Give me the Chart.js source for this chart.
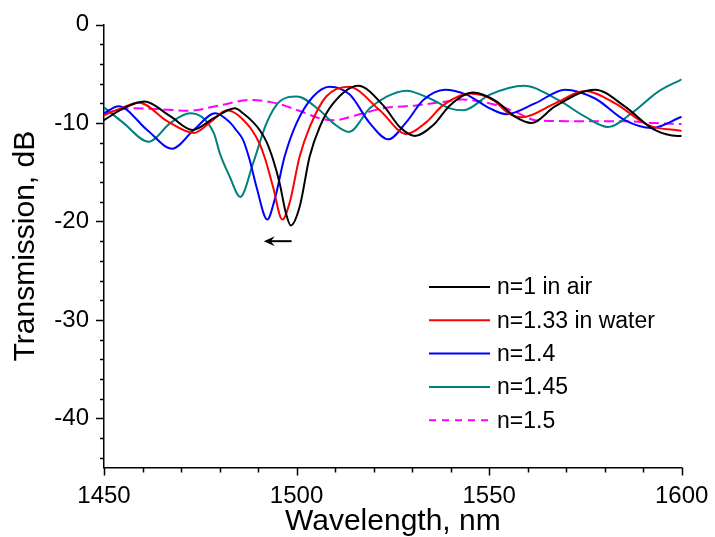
<!DOCTYPE html>
<html>
<head>
<meta charset="utf-8">
<script src="https://cdn.jsdelivr.net/npm/chart.js@4.4.0/dist/chart.umd.min.js"></script>
<style>
  html, body { margin: 0; padding: 0; background: #fff; }
  #wrap { width: 715px; height: 537px; }
</style>
</head>
<body>
<div id="wrap"><canvas id="transChart"></canvas></div>
<script>
// Tick labels
const xTicks = [1450, 1500, 1550, 1600];
const yTicks = [0, -10, -20, -30, -40];

// n=1 in air
const wlAir = [1450, 1455, 1460.5, 1467.2, 1473, 1478.5, 1484, 1486.1, 1488.7, 1490.4, 1492.2, 1493.9, 1495.6, 1497.2, 1498.5, 1500.8, 1503.4, 1506, 1509.5, 1516, 1522.5, 1526.8, 1530.7, 1535.5, 1539.8, 1545.8, 1551.9, 1556.7, 1561, 1567.1, 1577.5, 1585.2, 1593, 1599, 1600];
const tAir = [-9.7, -8.5, -7.8, -9.3, -10.7, -9.5, -8.5, -9.0, -9.9, -10.7, -11.9, -13.7, -16.1, -19.1, -20.4, -18.5, -13.4, -10.4, -8.0, -6.2, -8.2, -10.4, -11.3, -10.2, -8.2, -6.9, -7.8, -9.35, -10.0, -8.3, -6.6, -8.3, -10.7, -11.3, -11.3];

// n=1.33 in water
const wlWater = [1450, 1454.4, 1459, 1466.4, 1473.3, 1477.6, 1482, 1484.1, 1486, 1488.4, 1490.4, 1491.9, 1493.9, 1496.3, 1498.2, 1500.8, 1503.4, 1507.7, 1513.5, 1521.6, 1528.5, 1533.7, 1538, 1545, 1551, 1555, 1558.5, 1567.1, 1574.9, 1582.7, 1591.3, 1600];
const tWater = [-9.2, -8.5, -7.9, -9.8, -11.0, -9.9, -8.7, -9.0, -9.6, -10.7, -12.1, -13.7, -16.5, -19.8, -18.1, -13.4, -10.4, -7.3, -6.3, -8.7, -11.1, -9.9, -8.2, -7.0, -7.65, -9.0, -9.4, -8.0, -6.75, -8.0, -10.2, -10.8];

// n=1.4
const wl14 = [1450, 1453.8, 1461.2, 1467.7, 1473.3, 1478.9, 1482.6, 1484.3, 1486.1, 1487.8, 1489.6, 1492.4, 1494.3, 1496.9, 1500, 1504.3, 1508.6, 1513.8, 1519, 1523.8, 1528.5, 1532.9, 1538.5, 1544.1, 1550.2, 1554.5, 1561.9, 1569.7, 1577.5, 1585.2, 1592.2, 1600];
const t14 = [-9.0, -8.3, -10.7, -12.6, -10.7, -9.0, -9.9, -10.7, -11.7, -13.7, -16.5, -19.8, -17.8, -13.4, -10.0, -7.3, -6.3, -7.1, -10.0, -11.65, -9.9, -7.65, -6.6, -7.1, -8.5, -9.1, -8.0, -6.6, -7.5, -9.7, -10.5, -9.35];

// n=1.45
const wl145 = [1450, 1455.1, 1461.6, 1467.2, 1472.3, 1478.5, 1480.1, 1482.6, 1485.4, 1488.7, 1492.2, 1495.6, 1500, 1506, 1509.5, 1513.6, 1519, 1523.4, 1528.5, 1534.6, 1539.8, 1543.3, 1550.2, 1559, 1567.9, 1574.9, 1580.9, 1587, 1593.9, 1600];
const t145 = [-8.4, -10.0, -11.9, -10.0, -9.0, -11.0, -13.1, -15.4, -17.5, -14.1, -10.0, -7.8, -7.3, -8.7, -10.0, -10.9, -8.5, -7.3, -6.7, -7.5, -8.5, -8.7, -7.1, -6.2, -7.65, -9.35, -10.4, -9.0, -6.8, -5.55];

// n=1.5
const wl15 = [1450, 1457, 1465, 1472, 1480, 1488, 1495, 1501, 1506.8, 1510, 1515.5, 1522.5, 1531, 1539.8, 1543, 1550.2, 1556.5, 1562, 1570, 1585, 1593, 1600];
const t15 = [-9.0, -8.5, -8.6, -8.75, -8.2, -7.65, -8.0, -8.8, -9.6, -9.7, -9.2, -8.5, -8.2, -7.75, -7.6, -8.0, -8.8, -9.7, -9.8, -9.8, -10.0, -10.1];

// Shift arrow (wavelength from -> to, at transmission level)
const arrowWl = [1498.7, 1491.5];
const arrowT = -22.0;

const FONT = "'Liberation Sans', Arial, sans-serif";

function toPoints(xs, ys) {
    return xs.map((x, i) => ({ x: x, y: ys[i] }));
}

function series(label, xs, ys, color, dash) {
    return {
        label: label,
        data: toPoints(xs, ys),
        borderColor: color,
        backgroundColor: color,
        borderWidth: 2,
        borderDash: dash || [],
        pointRadius: 0,
        fill: false,
        cubicInterpolationMode: 'monotone'
    };
}

// Tick marks (major + minor) drawn outside the axes, plus the shift arrow
const axisTicks = {
    id: 'axisTicks',
    afterDraw(chart) {
        const { ctx, chartArea, scales: { x, y } } = chart;
        ctx.save();
        ctx.strokeStyle = '#000';
        ctx.lineWidth = 1.5;
        ctx.beginPath();
        for (let v = x.min; v <= x.max; v += 10) {
            const px = Math.round(x.getPixelForValue(v)) + 0.5;
            const len = (v % 50 === 0) ? 8 : 5;
            ctx.moveTo(px, chartArea.bottom);
            ctx.lineTo(px, chartArea.bottom + len);
        }
        for (let v = y.max; v >= y.min; v -= 2) {
            const py = Math.round(y.getPixelForValue(v)) + 0.5;
            const len = (v % 10 === 0) ? 8 : 4;
            ctx.moveTo(chartArea.left, py);
            ctx.lineTo(chartArea.left - len, py);
        }
        ctx.stroke();

        const ax0 = x.getPixelForValue(arrowWl[0]);
        const ax1 = x.getPixelForValue(arrowWl[1]);
        const ay = y.getPixelForValue(arrowT);
        ctx.lineWidth = 2;
        ctx.beginPath();
        ctx.moveTo(ax0, ay);
        ctx.lineTo(ax1 + 4, ay);
        ctx.stroke();
        ctx.beginPath();
        ctx.moveTo(ax1, ay);
        ctx.lineTo(ax1 + 11, ay - 5);
        ctx.lineTo(ax1 + 7, ay);
        ctx.lineTo(ax1 + 11, ay + 5);
        ctx.closePath();
        ctx.fillStyle = '#000';
        ctx.fill();
        ctx.restore();
    }
};

// Legend inside the plot, lower right
const innerLegend = {
    id: 'innerLegend',
    afterDraw(chart, args, opts) {
        const { ctx } = chart;
        ctx.save();
        ctx.font = opts.fontSize + 'px ' + FONT;
        ctx.textBaseline = 'middle';
        ctx.fillStyle = '#000';
        chart.data.datasets.forEach((ds, i) => {
            const yy = opts.top + i * opts.rowHeight;
            ctx.strokeStyle = ds.borderColor;
            ctx.lineWidth = 2;
            ctx.setLineDash(ds.borderDash.length ? [7, 6] : []);
            ctx.beginPath();
            ctx.moveTo(opts.left, yy);
            ctx.lineTo(opts.left + opts.lineLength, yy);
            ctx.stroke();
            ctx.setLineDash([]);
            ctx.fillText(ds.label, opts.left + opts.lineLength + 7, yy + 1);
        });
        ctx.restore();
    }
};

const ctx = document.getElementById('transChart');
new Chart(ctx, {
    type: 'line',
    data: {
        datasets: [
            series('n=1 in air', wlAir, tAir, '#000000'),
            series('n=1.33 in water', wlWater, tWater, '#ff0000'),
            series('n=1.4', wl14, t14, '#0000ff'),
            series('n=1.45', wl145, t145, '#008080'),
            series('n=1.5', wl15, t15, '#ff00ff', [10, 5])
        ]
    },
    plugins: [axisTicks, innerLegend],
    options: {
        responsive: true,
        maintainAspectRatio: false,
        animation: false,
        layout: {
            padding: { left: 0, right: 33.3, top: 24.7, bottom: 0 }
        },
        scales: {
            x: {
                type: 'linear',
                min: 1450,
                max: 1600,
                afterFit: function(scale) {
                    scale.height = 69.5;
                    scale.paddingLeft = 0;
                    scale.paddingRight = 0;
                },
                afterBuildTicks: function(scale) {
                    scale.ticks = xTicks.map(v => ({ value: v }));
                },
                grid: { drawOnChartArea: false, drawTicks: false },
                border: { display: true, color: '#000', width: 1.5 },
                ticks: {
                    color: '#000',
                    padding: 14,
                    maxRotation: 0,
                    font: { family: FONT, size: 24 },
                    callback: function(value) { return String(value); }
                },
                title: {
                    display: true,
                    text: 'Wavelength, nm',
                    color: '#000',
                    font: { family: FONT, size: 30, lineHeight: 1 },
                    padding: 0
                }
            },
            y: {
                type: 'linear',
                min: -45,
                max: 0,
                afterFit: function(scale) {
                    scale.width = 104;
                    scale.paddingTop = 0;
                    scale.paddingBottom = 0;
                },
                afterBuildTicks: function(scale) {
                    scale.ticks = yTicks.map(v => ({ value: v }));
                },
                grid: { drawOnChartArea: false, drawTicks: false },
                border: { display: true, color: '#000', width: 1.5 },
                ticks: {
                    color: '#000',
                    padding: 15,
                    font: { family: FONT, size: 24 },
                    callback: function(value) { return String(value); }
                },
                title: {
                    display: true,
                    text: 'Transmission, dB',
                    color: '#000',
                    font: { family: FONT, size: 30, lineHeight: 1 },
                    padding: { top: 11, bottom: 0 }
                }
            }
        },
        plugins: {
            legend: { display: false },
            tooltip: { enabled: false },
            innerLegend: { left: 429, top: 287, rowHeight: 33.3, lineLength: 61, fontSize: 23 }
        }
    }
});
</script>
</body>
</html>
